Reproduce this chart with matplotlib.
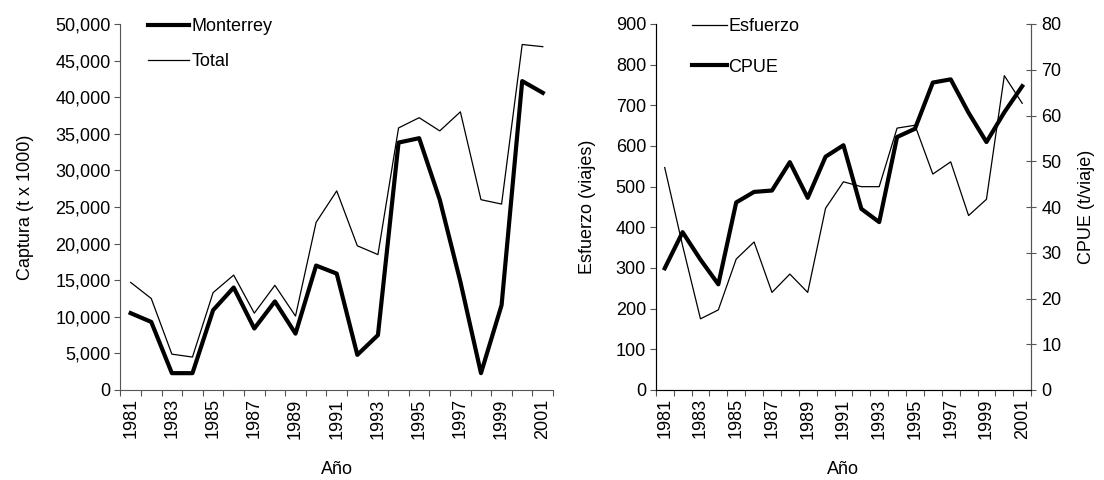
import numpy as np
import matplotlib.pyplot as plt
from matplotlib.ticker import FuncFormatter, MultipleLocator

plt.rcParams['font.family'] = ['Liberation Sans', 'DejaVu Sans']
plt.rcParams['font.size'] = 13

# datos
anios = list(range(1981, 2002))
total = [14700, 12500, 4900, 4500, 13300, 15700, 10500, 14300, 10100, 22900,
         27200, 19700, 18500, 35800, 37200, 35400, 38000, 26000, 25400, 47200, 46900]
monterrey = [10500, 9300, 2300, 2300, 10900, 14000, 8400, 12100, 7700, 17000,
             15900, 4800, 7500, 33800, 34400, 26000, 14800, 2300, 11600, 42200, 40600]
esfuerzo = [547, 355, 175, 197, 322, 364, 240, 285, 240, 447,
            512, 500, 500, 644, 651, 531, 561, 429, 469, 773, 705]
cpue = [26.6, 34.5, 28.5, 23.1, 41.0, 43.3, 43.6, 49.8, 42.0, 51.0,
        53.5, 39.6, 36.7, 55.3, 57.1, 67.2, 67.9, 60.6, 54.2, 60.7, 66.4]

x = np.arange(len(anios))
fig = plt.figure(figsize=(11.04, 4.8), dpi=100)
gris = '#555555'

def eje_anios(ax):
    ax.set_xlim(-0.5, len(anios) - 0.5)
    ax.set_xticks(x[::2])
    ax.set_xticklabels([str(a) for a in anios[::2]], rotation=90)
    ax.set_xticks(np.arange(-0.5, len(anios)), minor=True)
    ax.tick_params(axis='x', which='major', length=0, pad=6)
    ax.tick_params(axis='x', which='minor', length=4, width=0.8,
                   direction='out', color=gris)
    ax.tick_params(axis='y', length=4, width=0.8, direction='out',
                   pad=3, color=gris)
    ax.set_xlabel('Año', labelpad=16)
    ax.spines['top'].set_visible(False)
    for s in ('left', 'bottom', 'right'):
        ax.spines[s].set_color(gris)

# panel izquierdo: captura
ax1 = fig.add_axes([0.109, 0.1875, 0.392, 0.7625])
ax1.plot(x, monterrey, color='black', lw=3.0, label='Monterrey')
ax1.plot(x, total, color='black', lw=0.9, label='Total')
ax1.set_ylim(0, 50000)
ax1.yaxis.set_major_locator(MultipleLocator(5000))
ax1.yaxis.set_major_formatter(FuncFormatter(lambda v, p: f'{int(v):,}'))
ax1.set_ylabel('Captura (t x 1000)', labelpad=15)
ax1.spines['right'].set_visible(False)
eje_anios(ax1)
ax1.legend(loc='upper left', bbox_to_anchor=(0.134, 0.962),
           bbox_transform=fig.transFigure, frameon=False, borderpad=0,
           borderaxespad=0, handlelength=2.3, handletextpad=0.1,
           labelspacing=1.0)

# panel derecho: esfuerzo y CPUE
ax2 = fig.add_axes([0.594, 0.1875, 0.340, 0.7625])
l1, = ax2.plot(x, esfuerzo, color='black', lw=0.9, label='Esfuerzo')
ax2.set_ylim(0, 900)
ax2.yaxis.set_major_locator(MultipleLocator(100))
ax2.set_ylabel('Esfuerzo (viajes)', labelpad=14)
eje_anios(ax2)

ax3 = ax2.twinx()
l2, = ax3.plot(x, cpue, color='black', lw=3.0, label='CPUE')
ax3.set_ylim(0, 80)
ax3.yaxis.set_major_locator(MultipleLocator(10))
ax3.set_ylabel('CPUE (t/viaje)', labelpad=12)
ax3.tick_params(axis='y', length=7, width=0.8, direction='inout',
                pad=4, color=gris)
ax3.spines['top'].set_visible(False)
ax3.spines['right'].set_color(gris)
ax2.legend([l1, l2], ['Esfuerzo', 'CPUE'], loc='upper left',
           bbox_to_anchor=(0.627, 0.962), bbox_transform=fig.transFigure,
           frameon=False, borderpad=0, borderaxespad=0,
           handlelength=1.9, handletextpad=0.1, labelspacing=1.3)

fig.savefig('out.png', dpi=100)
